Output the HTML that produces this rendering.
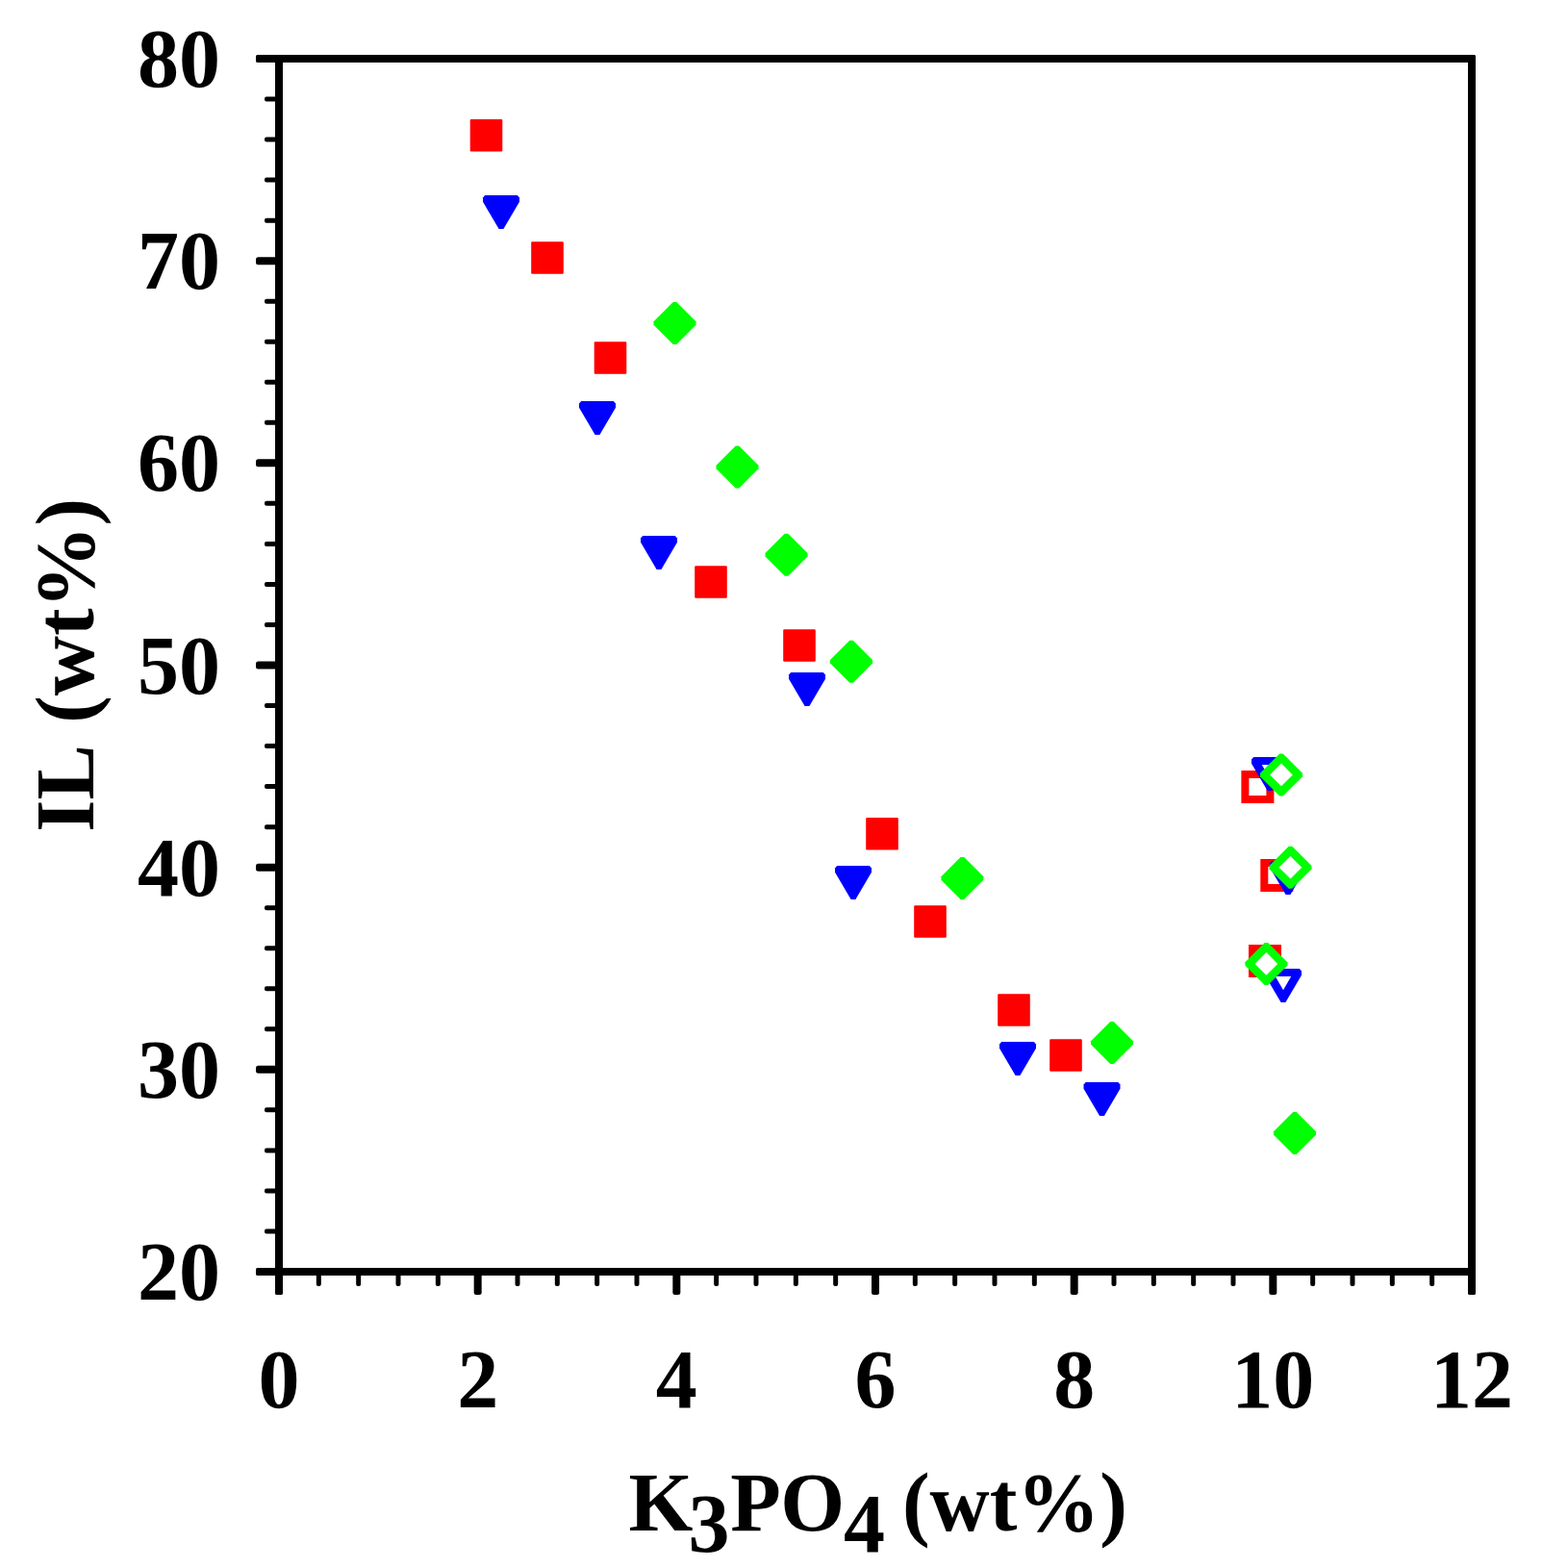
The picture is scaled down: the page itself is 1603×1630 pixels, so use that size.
<!DOCTYPE html>
<html><head><meta charset="utf-8"><title>IL vs K3PO4</title><style>
html,body{margin:0;padding:0;background:#fff;}
svg{display:block;}
text{font-family:"Liberation Serif","Times New Roman",serif;font-weight:bold;font-size:86px;fill:#000;}
</style></head><body>
<svg width="1603" height="1630" viewBox="0 0 1603 1630">
<g fill="#000">
<rect x="266" y="57" width="1268" height="8" rx="2"/>
<rect x="266" y="1318" width="1268" height="8" rx="2"/>
<rect x="286" y="57" width="8" height="1289" rx="2"/>
<rect x="1526" y="57" width="8" height="1289" rx="2"/>
<rect x="266" y="57.00" width="22" height="8" rx="2.5"/>
<rect x="275" y="100.53" width="13" height="5" rx="2"/>
<rect x="275" y="142.57" width="13" height="5" rx="2"/>
<rect x="275" y="184.60" width="13" height="5" rx="2"/>
<rect x="275" y="226.63" width="13" height="5" rx="2"/>
<rect x="266" y="267.17" width="22" height="8" rx="2.5"/>
<rect x="275" y="310.70" width="13" height="5" rx="2"/>
<rect x="275" y="352.73" width="13" height="5" rx="2"/>
<rect x="275" y="394.77" width="13" height="5" rx="2"/>
<rect x="275" y="436.80" width="13" height="5" rx="2"/>
<rect x="266" y="477.33" width="22" height="8" rx="2.5"/>
<rect x="275" y="520.87" width="13" height="5" rx="2"/>
<rect x="275" y="562.90" width="13" height="5" rx="2"/>
<rect x="275" y="604.93" width="13" height="5" rx="2"/>
<rect x="275" y="646.97" width="13" height="5" rx="2"/>
<rect x="266" y="687.50" width="22" height="8" rx="2.5"/>
<rect x="275" y="731.03" width="13" height="5" rx="2"/>
<rect x="275" y="773.07" width="13" height="5" rx="2"/>
<rect x="275" y="815.10" width="13" height="5" rx="2"/>
<rect x="275" y="857.13" width="13" height="5" rx="2"/>
<rect x="266" y="897.67" width="22" height="8" rx="2.5"/>
<rect x="275" y="941.20" width="13" height="5" rx="2"/>
<rect x="275" y="983.23" width="13" height="5" rx="2"/>
<rect x="275" y="1025.27" width="13" height="5" rx="2"/>
<rect x="275" y="1067.30" width="13" height="5" rx="2"/>
<rect x="266" y="1107.83" width="22" height="8" rx="2.5"/>
<rect x="275" y="1151.37" width="13" height="5" rx="2"/>
<rect x="275" y="1193.40" width="13" height="5" rx="2"/>
<rect x="275" y="1235.43" width="13" height="5" rx="2"/>
<rect x="275" y="1277.47" width="13" height="5" rx="2"/>
<rect x="266" y="1318.00" width="22" height="8" rx="2.5"/>
<rect x="286.00" y="1320" width="8" height="26" rx="2.5"/>
<rect x="328.83" y="1320" width="5" height="17" rx="2"/>
<rect x="370.17" y="1320" width="5" height="17" rx="2"/>
<rect x="411.50" y="1320" width="5" height="17" rx="2"/>
<rect x="452.83" y="1320" width="5" height="17" rx="2"/>
<rect x="492.67" y="1320" width="8" height="26" rx="2.5"/>
<rect x="535.50" y="1320" width="5" height="17" rx="2"/>
<rect x="576.83" y="1320" width="5" height="17" rx="2"/>
<rect x="618.17" y="1320" width="5" height="17" rx="2"/>
<rect x="659.50" y="1320" width="5" height="17" rx="2"/>
<rect x="699.33" y="1320" width="8" height="26" rx="2.5"/>
<rect x="742.17" y="1320" width="5" height="17" rx="2"/>
<rect x="783.50" y="1320" width="5" height="17" rx="2"/>
<rect x="824.83" y="1320" width="5" height="17" rx="2"/>
<rect x="866.17" y="1320" width="5" height="17" rx="2"/>
<rect x="906.00" y="1320" width="8" height="26" rx="2.5"/>
<rect x="948.83" y="1320" width="5" height="17" rx="2"/>
<rect x="990.17" y="1320" width="5" height="17" rx="2"/>
<rect x="1031.50" y="1320" width="5" height="17" rx="2"/>
<rect x="1072.83" y="1320" width="5" height="17" rx="2"/>
<rect x="1112.67" y="1320" width="8" height="26" rx="2.5"/>
<rect x="1155.50" y="1320" width="5" height="17" rx="2"/>
<rect x="1196.83" y="1320" width="5" height="17" rx="2"/>
<rect x="1238.17" y="1320" width="5" height="17" rx="2"/>
<rect x="1279.50" y="1320" width="5" height="17" rx="2"/>
<rect x="1319.33" y="1320" width="8" height="26" rx="2.5"/>
<rect x="1362.17" y="1320" width="5" height="17" rx="2"/>
<rect x="1403.50" y="1320" width="5" height="17" rx="2"/>
<rect x="1444.83" y="1320" width="5" height="17" rx="2"/>
<rect x="1486.17" y="1320" width="5" height="17" rx="2"/>
<rect x="1526.00" y="1320" width="8" height="26" rx="2.5"/>
</g>
<rect x="489.7" y="125.0" width="31.6" height="31.6" fill="#ff0000" stroke="#ff0000" stroke-width="2" stroke-linejoin="round"/>
<rect x="553.2" y="252.2" width="31.6" height="31.6" fill="#ff0000" stroke="#ff0000" stroke-width="2" stroke-linejoin="round"/>
<rect x="618.7" y="356.2" width="31.6" height="31.6" fill="#ff0000" stroke="#ff0000" stroke-width="2" stroke-linejoin="round"/>
<rect x="723.2" y="589.2" width="31.6" height="31.6" fill="#ff0000" stroke="#ff0000" stroke-width="2" stroke-linejoin="round"/>
<rect x="815.2" y="655.2" width="31.6" height="31.6" fill="#ff0000" stroke="#ff0000" stroke-width="2" stroke-linejoin="round"/>
<rect x="901.2" y="851.0" width="31.6" height="31.6" fill="#ff0000" stroke="#ff0000" stroke-width="2" stroke-linejoin="round"/>
<rect x="951.2" y="942.2" width="31.6" height="31.6" fill="#ff0000" stroke="#ff0000" stroke-width="2" stroke-linejoin="round"/>
<rect x="1038.2" y="1034.2" width="31.6" height="31.6" fill="#ff0000" stroke="#ff0000" stroke-width="2" stroke-linejoin="round"/>
<rect x="1092.2" y="1081.2" width="31.6" height="31.6" fill="#ff0000" stroke="#ff0000" stroke-width="2" stroke-linejoin="round"/>
<polygon points="504.20,203.00 537.80,203.00 540.00,205.50 540.00,209.80 523.40,238.00 518.60,238.00 502.00,209.80 502.00,205.50" fill="#0000ff"/>
<polygon points="604.20,417.00 637.80,417.00 640.00,419.50 640.00,423.80 623.40,452.00 618.60,452.00 602.00,423.80 602.00,419.50" fill="#0000ff"/>
<polygon points="668.20,557.00 701.80,557.00 704.00,559.50 704.00,563.80 687.40,592.00 682.60,592.00 666.00,563.80 666.00,559.50" fill="#0000ff"/>
<polygon points="822.20,699.00 855.80,699.00 858.00,701.50 858.00,705.80 841.40,734.00 836.60,734.00 820.00,705.80 820.00,701.50" fill="#0000ff"/>
<polygon points="870.20,900.00 903.80,900.00 906.00,902.50 906.00,906.80 889.40,935.00 884.60,935.00 868.00,906.80 868.00,902.50" fill="#0000ff"/>
<polygon points="1041.20,1083.00 1074.80,1083.00 1077.00,1085.50 1077.00,1089.80 1060.40,1118.00 1055.60,1118.00 1039.00,1089.80 1039.00,1085.50" fill="#0000ff"/>
<polygon points="1128.70,1125.00 1162.30,1125.00 1164.50,1127.50 1164.50,1131.80 1147.90,1160.00 1143.10,1160.00 1126.50,1131.80 1126.50,1127.50" fill="#0000ff"/>
<polygon points="699.75,314.00 703.25,314.00 723.50,334.25 723.50,337.75 703.25,358.00 699.75,358.00 679.50,337.75 679.50,334.25" fill="#00ff00"/>
<polygon points="764.75,463.40 768.25,463.40 788.50,483.65 788.50,487.15 768.25,507.40 764.75,507.40 744.50,487.15 744.50,483.65" fill="#00ff00"/>
<polygon points="815.75,554.80 819.25,554.80 839.50,575.05 839.50,578.55 819.25,598.80 815.75,598.80 795.50,578.55 795.50,575.05" fill="#00ff00"/>
<polygon points="883.25,665.80 886.75,665.80 907.00,686.05 907.00,689.55 886.75,709.80 883.25,709.80 863.00,689.55 863.00,686.05" fill="#00ff00"/>
<polygon points="998.65,890.90 1002.15,890.90 1022.40,911.15 1022.40,914.65 1002.15,934.90 998.65,934.90 978.40,914.65 978.40,911.15" fill="#00ff00"/>
<polygon points="1154.25,1062.00 1157.75,1062.00 1178.00,1082.25 1178.00,1085.75 1157.75,1106.00 1154.25,1106.00 1134.00,1085.75 1134.00,1082.25" fill="#00ff00"/>
<polygon points="1344.25,1156.00 1347.75,1156.00 1368.00,1176.25 1368.00,1179.75 1347.75,1200.00 1344.25,1200.00 1324.00,1179.75 1324.00,1176.25" fill="#00ff00"/>
<rect x="1294.4" y="805.0" width="26" height="26" fill="#fff" stroke="#ff0000" stroke-width="8"/>
<rect x="1314.3" y="897.0" width="26" height="26" fill="#fff" stroke="#ff0000" stroke-width="8"/>
<rect x="1302.0" y="986.0" width="26" height="26" fill="#fff" stroke="#ff0000" stroke-width="8"/>
<polygon points="1303.20,787.00 1336.80,787.00 1339.00,789.50 1339.00,793.80 1322.40,822.00 1317.60,822.00 1301.00,793.80 1301.00,789.50" fill="#0000ff"/><polygon points="1311.80,795.00 1328.20,795.00 1320.00,809.30" fill="#fff"/>
<polygon points="1322.20,895.00 1355.80,895.00 1358.00,897.50 1358.00,901.80 1341.40,930.00 1336.60,930.00 1320.00,901.80 1320.00,897.50" fill="#0000ff"/><polygon points="1330.80,903.00 1347.20,903.00 1339.00,917.30" fill="#fff"/>
<polygon points="1317.20,1007.00 1350.80,1007.00 1353.00,1009.50 1353.00,1013.80 1336.40,1042.00 1331.60,1042.00 1315.00,1013.80 1315.00,1009.50" fill="#0000ff"/><polygon points="1325.80,1015.00 1342.20,1015.00 1334.00,1029.30" fill="#fff"/>
<polygon points="1330.25,783.40 1333.75,783.40 1354.00,803.65 1354.00,807.15 1333.75,827.40 1330.25,827.40 1310.00,807.15 1310.00,803.65" fill="#00ff00"/><polygon points="1332.00,793.60 1343.80,805.40 1332.00,817.20 1320.20,805.40" fill="#fff"/>
<polygon points="1339.75,879.80 1343.25,879.80 1363.50,900.05 1363.50,903.55 1343.25,923.80 1339.75,923.80 1319.50,903.55 1319.50,900.05" fill="#00ff00"/><polygon points="1341.50,890.00 1353.30,901.80 1341.50,913.60 1329.70,901.80" fill="#fff"/>
<polygon points="1314.65,979.90 1318.15,979.90 1338.40,1000.15 1338.40,1003.65 1318.15,1023.90 1314.65,1023.90 1294.40,1003.65 1294.40,1000.15" fill="#00ff00"/><polygon points="1316.40,990.10 1328.20,1001.90 1316.40,1013.70 1304.60,1001.90" fill="#fff"/>
<g text-anchor="end">
<text x="229" y="90.0">80</text>
<text x="229" y="300.2">70</text>
<text x="229" y="510.3">60</text>
<text x="229" y="720.5">50</text>
<text x="229" y="930.7">40</text>
<text x="229" y="1140.8">30</text>
<text x="229" y="1351.0">20</text>
</g>
<g text-anchor="middle">
<text x="290.0" y="1463">0</text>
<text x="496.7" y="1463">2</text>
<text x="703.3" y="1463">4</text>
<text x="910.0" y="1463">6</text>
<text x="1116.7" y="1463">8</text>
<text x="1323.3" y="1463">10</text>
<text x="1530.0" y="1463">12</text>
</g>
<text y="1591"><tspan x="653.5">K</tspan><tspan x="715.4" dy="22">3</tspan><tspan x="759.2" dy="-22">P</tspan><tspan x="811.2">O</tspan><tspan x="877.1" dy="22">4</tspan><tspan x="937.9" dy="-22">(wt%)</tspan></text>
<text transform="translate(97,865) rotate(-90)">IL <tspan dx="5.6">(wt%)</tspan></text>
</svg>
</body></html>
